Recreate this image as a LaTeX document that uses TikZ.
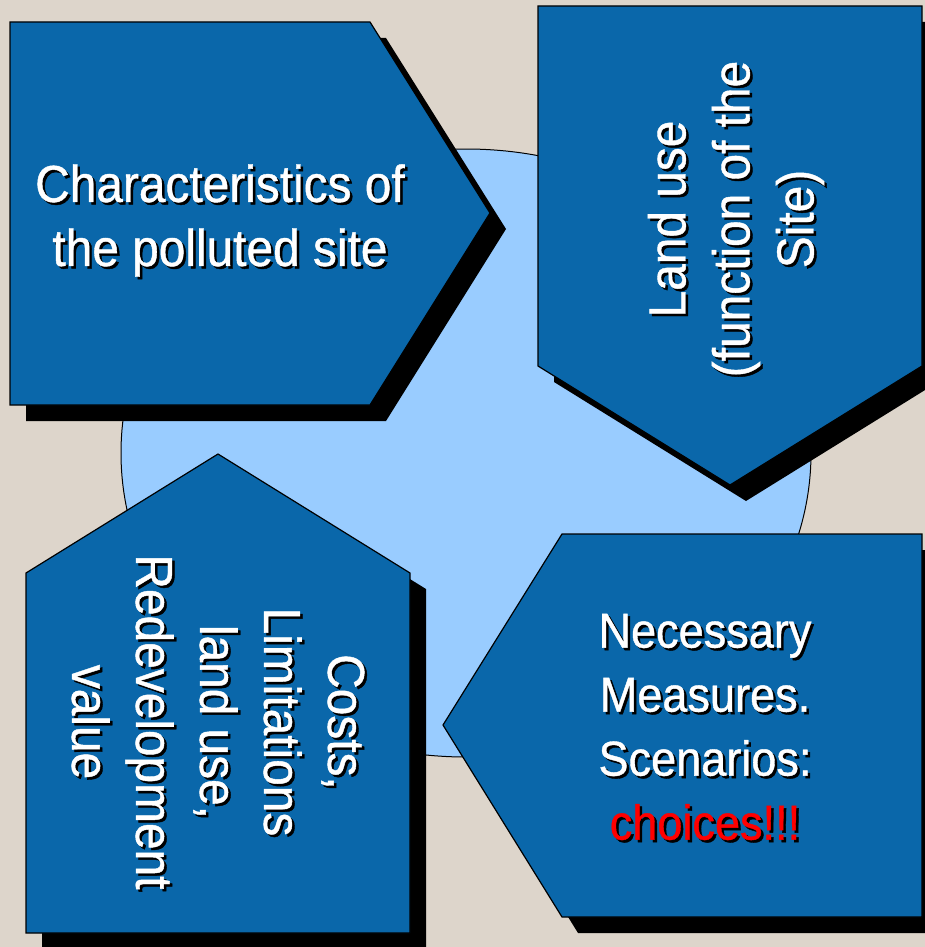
\documentclass[tikz,border=0pt]{standalone}
\usepackage{fontspec}
\setmainfont{Liberation Sans}
\newfontfamily\boxfont{Liberation Sans}[FakeStretch=0.92, FakeBold=0.8]
\usepackage{tikz}
\usepackage{xcolor}

\definecolor{boxblue}{HTML}{0A67AA}
\definecolor{discblue}{HTML}{99CCFF}
\definecolor{paper}{HTML}{DDD5CB}
\definecolor{alarmred}{HTML}{FF0000}

\tikzset{
	box/.style={fill=boxblue, draw=black, line width=1.2pt, line join=miter},
	boxshadow/.style={fill=black, shift={(16,16)}},
	boxtext/.style={text=white, align=center, inner sep=0pt,
		font=\boxfont\fontsize{52}{64}\selectfont},
	textshadow/.style={boxtext, text=black}
}

\begin{document}
\begin{tikzpicture}[x=1pt, y=-1pt]
		% Background.
		\fill[paper] (0,0) rectangle (925,947);
		\useasboundingbox (0,0) rectangle (925,947);
		
		% Disc in the middle.
		\draw[fill=discblue, line width=1pt] (466,453) ellipse [x radius=345, y radius=304];
		
		% Top left: pointing right.
		\fill[boxshadow] (10,22) -- (370,22) -- (490,213) -- (370,405) -- (10,405) -- cycle;
		\draw[box] (10,22) -- (370,22) -- (490,213) -- (370,405) -- (10,405) -- cycle;
		
		% Top right: pointing down.
		\fill[boxshadow] (538,6) -- (922,6) -- (922,366) -- (730,485) -- (538,366) -- cycle;
		\draw[box] (538,6) -- (922,6) -- (922,366) -- (730,485) -- (538,366) -- cycle;
		
		% Bottom right: pointing left.
		\fill[boxshadow] (562,534) -- (922,534) -- (922,917) -- (562,917) -- (443,725) -- cycle;
		\draw[box] (562,534) -- (922,534) -- (922,917) -- (562,917) -- (443,725) -- cycle;
		
		% Bottom left: pointing up.
		\fill[boxshadow] (26,573) -- (218,454) -- (410,573) -- (410,933) -- (26,933) -- cycle;
		\draw[box] (26,573) -- (218,454) -- (410,573) -- (410,933) -- (26,933) -- cycle;
		
		% Texts, each with its shadow.
		\node[textshadow] at (222.5,223) {Characteristics of\\the polluted site};
		\node[boxtext] (site) at (220,220.5) {Characteristics of\\the polluted site};
		
		\node[textshadow, rotate=90] at (738.5,221.5) {Land use\\(function of the\\Site)};
		\node[boxtext, rotate=90] (landuse) at (736,219) {Land use\\(function of the\\Site)};
		
		\node[textshadow, font=\boxfont\fontsize{49}{64}\selectfont] at (707.5,729.5)
			{Necessary\\Measures.\\Scenarios:\\choices!!!};
		\node[boxtext, font=\boxfont\fontsize{49}{64}\selectfont] (measures) at (705,727)
			{Necessary\\Measures.\\Scenarios:\\\textcolor{alarmred}{choices!!!}};
		
		\node[textshadow, rotate=-90] at (220.5,724.5)
			{Costs,\\Limitations\\land use,\\Redevelopment\\value};
		\node[boxtext, rotate=-90] (costs) at (218,722)
			{Costs,\\Limitations\\land use,\\Redevelopment\\value};
	\end{tikzpicture}
\end{document}
